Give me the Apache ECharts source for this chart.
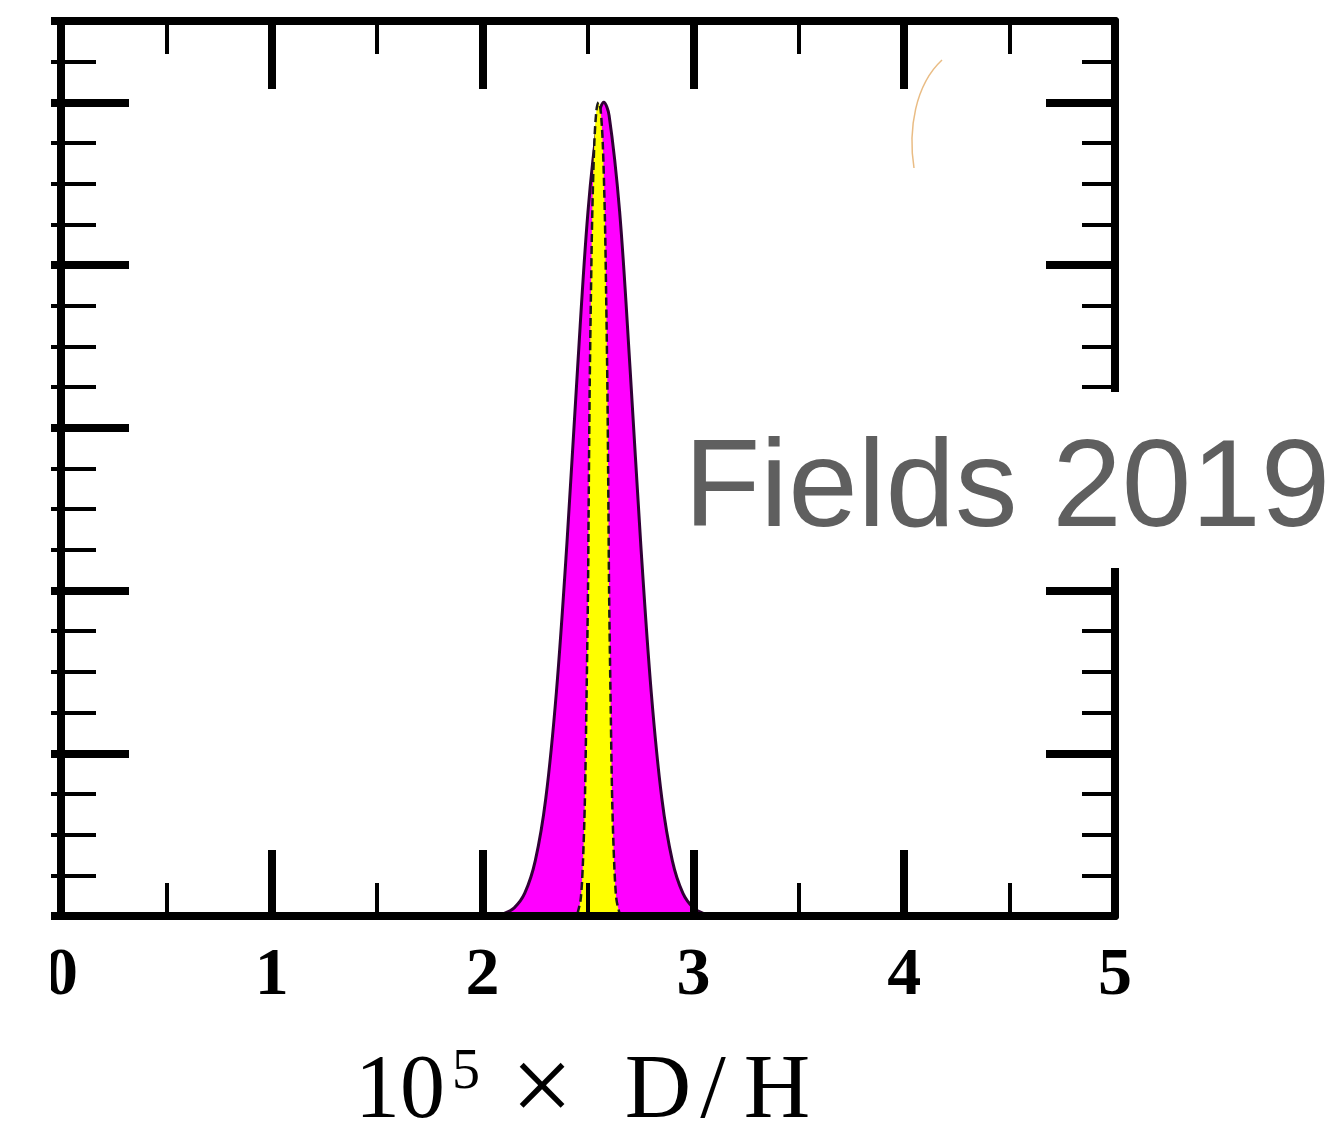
<!DOCTYPE html>
<html>
<head>
<meta charset="utf-8">
<script src="https://cdn.jsdelivr.net/npm/echarts@6/dist/echarts.min.js"></script>
<style>
html, body { margin: 0; padding: 0; background: #fff; }
#main { width: 1343px; height: 1138px; }
</style>
</head>
<body>
<div id="main"></div>
<script>
// 横轴刻度 / 数据 (从图上读出, 峰值归一为 1)
var xTicks = [0, 1, 2, 3, 4, 5];

// 洋红: 较宽的分布
var magentaX = [2.10, 2.15, 2.20, 2.25, 2.30, 2.35, 2.40, 2.45, 2.50, 2.55, 2.575, 2.60, 2.65, 2.70, 2.75, 2.80, 2.85, 2.90, 2.95, 3.00, 3.05];
var magentaY = [0.003, 0.010, 0.028, 0.068, 0.145, 0.275, 0.458, 0.671, 0.866, 0.984, 1.000, 0.984, 0.866, 0.671, 0.458, 0.275, 0.145, 0.068, 0.028, 0.010, 0.003];

// 黄色: 窄分布, 虚线边
var yellowX = [2.450, 2.465, 2.475, 2.485, 2.492, 2.500, 2.503, 2.508, 2.514, 2.520, 2.530, 2.540, 2.550, 2.560, 2.570, 2.580, 2.586, 2.592, 2.597, 2.600, 2.608, 2.615, 2.625, 2.635, 2.650];
var yellowY = [0.003, 0.020, 0.060, 0.140, 0.250, 0.400, 0.500, 0.650, 0.765, 0.860, 0.950, 0.990, 1.000, 0.990, 0.950, 0.860, 0.765, 0.650, 0.500, 0.400, 0.250, 0.140, 0.060, 0.020, 0.003];

// 左边被裁掉的青色尾巴
var cyanX = [-0.06, -0.035, -0.015];
var cyanY = [0.064, 0.063, 0.058];

function pairs(xs, ys) {
    var out = [];
    for (var i = 0; i < xs.length; i++) {
        out.push([xs[i], ys[i]]);
    }
    return out;
}

var dom = document.getElementById('main');
var chart = echarts.init(dom);

var serif = '"Liberation Serif", "DejaVu Serif", serif';

function xAxisDef(pos, showLabel) {
    return {
        type: 'value',
        position: pos,
        min: xTicks[0],
        max: xTicks[xTicks.length - 1],
        interval: 1,
        z: 5,
        axisLine: { show: true, onZero: false, lineStyle: { color: '#000', width: 8 } },
        axisTick: { show: true, inside: true, length: pos == 'top' ? 68 : 66, lineStyle: { color: '#000', width: 8 } },
        minorTick: { show: true, splitNumber: 2, length: 33, lineStyle: { color: '#000', width: 4 } },
        splitLine: { show: false },
        axisLabel: {
            show: showLabel,
            margin: 26,
            color: '#000',
            fontSize: 68,
            fontWeight: 'bold',
            fontFamily: serif
        }
    };
}

function yAxisDef(pos, interval, len, width, inside, showLine) {
    return {
        type: 'value',
        position: pos,
        min: 0,
        max: 1.1,
        interval: interval,
        z: 5,
        axisLine: { show: showLine, onZero: false, lineStyle: { color: '#000', width: 8 } },
        axisTick: { show: true, inside: inside, length: len, lineStyle: { color: '#000', width: width } },
        splitLine: { show: false },
        axisLabel: { show: false }
    };
}

// 轴名 10^5 × D/H, 每段用固定宽度排开 (段内文字居中)
var bottomAxis = xAxisDef('bottom', true);
bottomAxis.name = '{n|10}{s|5}{x|×}{g| }{d|D}{sl|/}{h|H}';
bottomAxis.nameLocation = 'middle';
bottomAxis.nameGap = 129;
bottomAxis.nameTextStyle = {
    rich: {
        n: { fontSize: 90, lineHeight: 96, width: 90, color: '#000', fontFamily: serif },
        s: { fontSize: 56, lineHeight: 0, width: 42, verticalAlign: 'top', color: '#000', fontFamily: serif },
        x: { fontSize: 110, lineHeight: 96, width: 110, color: '#000', fontFamily: serif },
        g: { fontSize: 20, lineHeight: 96, width: 26 },
        d: { fontSize: 92, lineHeight: 96, width: 70, color: '#000', fontFamily: serif },
        sl: { fontSize: 92, lineHeight: 96, width: 40, color: '#000', fontFamily: serif },
        h: { fontSize: 92, lineHeight: 96, width: 88, color: '#000', fontFamily: serif }
    }
};

var option = {
    animation: false,
    backgroundColor: '#fff',
    grid: { left: 61, right: 228, top: 21, bottom: 222, containLabel: false, outerBoundsMode: 'none' },
    xAxis: [bottomAxis, xAxisDef('top', false)],
    yAxis: [
        yAxisDef('left', 0.2, 68, 8, true, true),
        yAxisDef('left', 0.05, 35, 4, true, false),
        yAxisDef('left', 0.2, 11, 8, false, false),
        yAxisDef('left', 0.05, 11, 4, false, false),
        yAxisDef('right', 0.2, 69, 8, true, true),
        yAxisDef('right', 0.05, 33, 4, true, false)
    ],
    series: [
        {
            name: 'cyan',
            type: 'line',
            data: pairs(cyanX, cyanY),
            clip: false,
            symbol: 'none',
            z: 1,
            lineStyle: { width: 0 },
            areaStyle: { color: '#00ffff', opacity: 1 }
        },
        {
            name: 'magenta',
            type: 'line',
            data: pairs(magentaX, magentaY),
            smooth: 0.35,
            symbol: 'none',
            z: 1,
            lineStyle: { color: '#300035', width: 3 },
            areaStyle: { color: '#ff00ff', opacity: 1 }
        },
        {
            name: 'yellow',
            type: 'line',
            data: pairs(yellowX, yellowY),
            smooth: 0.3,
            symbol: 'none',
            z: 2,
            lineStyle: { color: '#1a1a1a', width: 2.5, type: [8, 4] },
            areaStyle: { color: '#ffff00', opacity: 1 }
        }
    ],
    graphic: [
        // 左侧裁切
        { type: 'rect', z: 100, shape: { x: 0, y: 0, width: 51, height: 1138 }, style: { fill: '#fff' } },
        // 右上角的残留弧线
        { type: 'bezierCurve', z: 100, shape: { x1: 942, y1: 60, cpx1: 915, cpy1: 85, cpx2: 908, cpy2: 130, x2: 914, y2: 168 },
          style: { stroke: '#e0a050', lineWidth: 1.5, fill: null, opacity: 0.7 } },
        // 标注
        { type: 'rect', z: 100, shape: { x: 672, y: 392, width: 671, height: 176 }, style: { fill: '#fff' } },
        { type: 'text', z: 101, x: 684, y: 492,
          style: { text: 'Fields 2019', fill: '#5f5f5f', font: '125px "Liberation Sans", Arial, sans-serif', verticalAlign: 'middle' } }
    ]
};

chart.setOption(option);
window.addEventListener('resize', function () {
    chart.resize();
});
</script>
</body>
</html>
